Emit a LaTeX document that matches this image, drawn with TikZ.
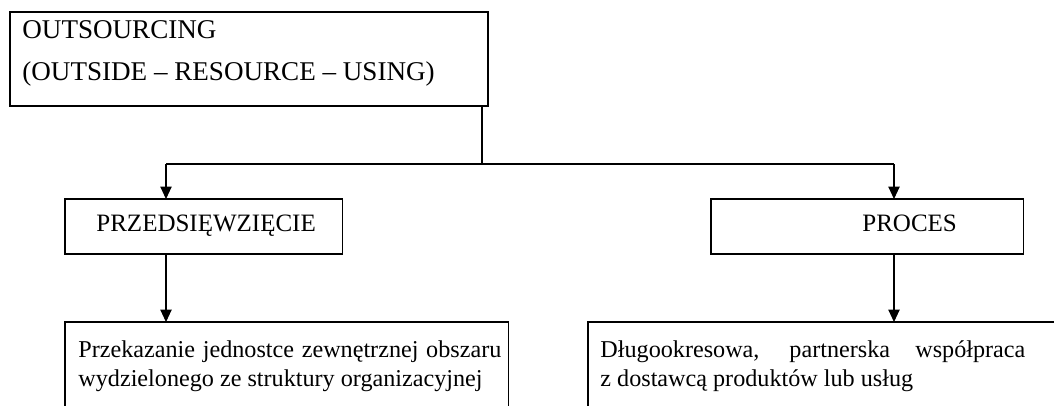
\documentclass[tikz,border=0pt]{standalone}
\usepackage{fontspec}
\setmainfont{Liberation Serif}
\usetikzlibrary{arrows.meta}
\hyphenpenalty=10000
\tolerance=9999
\tikzset{
  px/.style={x=0.48pt,y=-0.48pt},
  frame/.style={draw,line width=0.5pt,inner sep=0pt,outer sep=0pt,anchor=north west},
  headframe/.style={frame,line width=1pt},
  txt/.style={inner sep=0pt,anchor=base west,font=\fontsize{12}{14}\selectfont},
  headtxt/.style={txt,font=\fontsize{13}{15}\selectfont},
  para/.style={inner sep=0pt,anchor=north west,font=\fontsize{11.6}{14}\selectfont,
    text width=#1,align=justify},
  link/.style={line width=0.5pt},
  arr/.style={link,-{Triangle[length=6pt,width=5.5pt]}}
}
\begin{document}
\begin{tikzpicture}[px]
\useasboundingbox (0,0) rectangle (1054,406);
\clip (0,0) rectangle (1054,406);

% boxes
\node[headframe,minimum width=229.4pt,minimum height=45.1pt] (head) at (10,12) {};
\node[frame,minimum width=133.4pt,minimum height=26.4pt] (pz) at (65,199) {};
\node[frame,minimum width=150.2pt,minimum height=26.4pt] (pr) at (711,199) {};
\node[frame,minimum width=213.1pt,minimum height=60pt] (bl) at (65,322) {};
\node[frame,minimum width=240pt,minimum height=60pt] (br) at (588,322) {};

% labels
\node[headtxt] (headA) at (22,38) {OUTSOURCING};
\node[headtxt] (headB) at (22,80) {(OUTSIDE – RESOURCE – USING)};
\node[txt] (pzT) at (96,231) {PRZEDSIĘWZIĘCIE};
\node[txt] (prT) at (862,231) {PROCES};
\node[para=203pt] (blT) at (78,340) {Przekazanie jednostce zewnętrznej obszaru wydzielonego ze struktury organizacyjnej};
\node[para=204pt] (brT) at (600,340) {Długookresowa, partnerska współpraca z~dostawcą produktów lub usług};

% connectors
\coordinate (split) at (482,164);
\coordinate (lx) at (166,164);
\coordinate (rx) at (894,164);
\draw[link] (head.south -| split) -- (split);
\draw[link] (lx) -- (rx);
\draw[arr] (lx) -- (lx |- pz.north);
\draw[arr] (rx) -- (rx |- pr.north);
\draw[arr] (lx |- pz.south) -- (lx |- bl.north);
\draw[arr] (rx |- pr.south) -- (rx |- br.north);
\end{tikzpicture}
\end{document}
